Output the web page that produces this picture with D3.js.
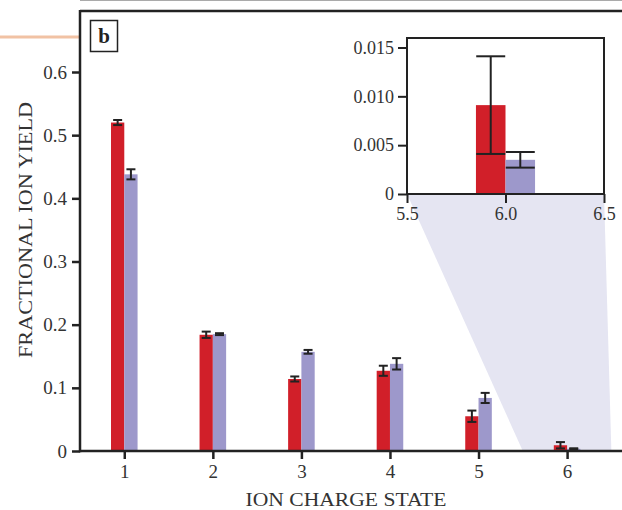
<!DOCTYPE html>
<html>
<head>
<meta charset="utf-8">
<script src="https://cdn.jsdelivr.net/npm/d3@7"></script>
<style>
  body { margin: 0; background: #fff; }
  svg { display: block; font-family: "Liberation Serif", "DejaVu Serif", serif; }
</style>
</head>
<body>
<div id="chart"></div>
<script>
// charge states and the two measured series (fractional yield, +/- error)
const chargeStates = [1, 2, 3, 4, 5, 6];
const redYield = [0.520, 0.184, 0.114, 0.127, 0.055, 0.0091];
const redErr = [0.004, 0.005, 0.004, 0.008, 0.009, 0.005];
const blueYield = [0.438, 0.185, 0.157, 0.138, 0.084, 0.0035];
const blueErr = [0.008, 0.0015, 0.003, 0.009, 0.008, 0.0008];

const yTicks = [0, 0.1, 0.2, 0.3, 0.4, 0.5, 0.6];
const insetStates = [6];
const insetYTicks = [0, 0.005, 0.010, 0.015];
const insetXTicks = [5.5, 6.0, 6.5];

const colors = { red: "#d11f29", blue: "#9d98cb" };
const ink = "#222";
const barW = 0.15;

const svg = d3.select("#chart").append("svg")
    .attr("width", 622)
    .attr("height", 510);

// main scales
const x = d3.scaleLinear().domain([0.5, 6.62]).range([80, 622]);
const y = d3.scaleLinear().domain([0, 0.6]).range([451, 72]);

// inset scales
const xi = d3.scaleLinear().domain([5.5, 6.5]).range([407, 604]);
const yi = d3.scaleLinear().domain([0, 0.015]).range([194, 47.5]);

// page decorations
svg.append("line")
    .attr("x1", 80).attr("x2", 622).attr("y1", 0.5).attr("y2", 0.5)
    .attr("stroke", "#aaa").attr("stroke-width", 1);
svg.append("line")
    .attr("x1", 0).attr("x2", 80).attr("y1", 37).attr("y2", 37)
    .attr("stroke", "#f1c2a4").attr("stroke-width", 3);

// zoom shading from inset down to the main axis
svg.append("polygon")
    .attr("points", [
        [xi(5.5), yi(0)], [xi(6.5), yi(0)],
        [x(6.5), y(0)], [x(5.5), y(0)]
    ].map(p => p.join(",")).join(" "))
    .attr("fill", "#e5e5f2");

// bars with error bars, for the given charge states
function drawBars(g, xs, ys, states, capW, lineW) {
    const series = [
        { vals: redYield, err: redErr, color: colors.red, off: -barW },
        { vals: blueYield, err: blueErr, color: colors.blue, off: 0 }
    ];
    const idx = states.map(s => chargeStates.indexOf(s));
    series.forEach(s => {
        g.append("g").selectAll("rect")
            .data(idx)
            .join("rect")
            .attr("x", i => xs(chargeStates[i] + s.off))
            .attr("y", i => ys(s.vals[i]))
            .attr("width", i => xs(chargeStates[i] + s.off + barW) - xs(chargeStates[i] + s.off))
            .attr("height", i => ys(0) - ys(s.vals[i]))
            .attr("fill", s.color);
    });
    series.forEach(s => {
        const eg = g.append("g").attr("stroke", ink).attr("stroke-width", lineW);
        idx.forEach(i => {
            const cx = xs(chargeStates[i] + s.off + barW / 2);
            const lo = ys(s.vals[i] - s.err[i]);
            const hi = ys(s.vals[i] + s.err[i]);
            eg.append("line").attr("x1", cx).attr("x2", cx).attr("y1", lo).attr("y2", hi);
            eg.append("line").attr("x1", cx - capW / 2).attr("x2", cx + capW / 2).attr("y1", lo).attr("y2", lo);
            eg.append("line").attr("x1", cx - capW / 2).attr("x2", cx + capW / 2).attr("y1", hi).attr("y2", hi);
        });
    });
}

drawBars(svg.append("g"), x, y, chargeStates, 9, 2);

function styleAxis(a, tickW, fontSize) {
    a.attr("font-family", null).attr("font-size", null);
    a.select(".domain").remove();
    a.selectAll(".tick line").attr("stroke", ink).attr("stroke-width", tickW);
    a.selectAll(".tick text").attr("fill", "#333").style("font-size", fontSize);
}

// main axes
const xAxis = svg.append("g")
    .attr("transform", `translate(0,${y(0)})`)
    .call(d3.axisBottom(x).tickValues(chargeStates).tickSize(8).tickSizeOuter(0).tickPadding(6).tickFormat(d3.format("d")));
const yAxis = svg.append("g")
    .attr("transform", `translate(${x(0.5)},0)`)
    .call(d3.axisLeft(y).tickValues(yTicks).tickSize(8).tickSizeOuter(0).tickPadding(5)
        .tickFormat(d => d === 0 ? "0" : d3.format(".1f")(d)));
styleAxis(xAxis, 2.5, "19px");
styleAxis(yAxis, 2.5, "19px");

// frame lines
svg.append("line").attr("x1", 80).attr("x2", 80).attr("y1", 10).attr("y2", y(0) + 1.25)
    .attr("stroke", ink).attr("stroke-width", 2.5);
svg.append("line").attr("x1", 80).attr("x2", 622).attr("y1", y(0)).attr("y2", y(0))
    .attr("stroke", ink).attr("stroke-width", 2.5);
svg.append("line").attr("x1", 80).attr("x2", 622).attr("y1", 11).attr("y2", 11)
    .attr("stroke", ink).attr("stroke-width", 2.5);

// axis titles
svg.append("text")
    .attr("x", 346).attr("y", 506)
    .attr("text-anchor", "middle")
    .attr("fill", "#333")
    .attr("textLength", 201)
    .attr("lengthAdjust", "spacingAndGlyphs")
    .style("font-size", "19px")
    .text("ION CHARGE STATE");
svg.append("text")
    .attr("transform", "translate(32,230) rotate(-90)")
    .attr("text-anchor", "middle")
    .attr("fill", "#333")
    .attr("textLength", 256)
    .attr("lengthAdjust", "spacingAndGlyphs")
    .style("font-size", "19px")
    .text("FRACTIONAL ION YIELD");

// panel label
svg.append("rect")
    .attr("x", 90.5).attr("y", 20.5).attr("width", 27).attr("height", 31)
    .attr("fill", "#fff").attr("stroke", ink).attr("stroke-width", 1.5);
svg.append("text")
    .attr("x", 104).attr("y", 43)
    .attr("text-anchor", "middle")
    .attr("font-weight", "bold")
    .attr("fill", ink)
    .style("font-size", "21px")
    .text("b");

// inset
const inset = svg.append("g");
inset.append("rect")
    .attr("x", xi(5.5)).attr("y", 38)
    .attr("width", xi(6.5) - xi(5.5)).attr("height", yi(0) - 38)
    .attr("fill", "#fff");

drawBars(inset.append("g"), xi, yi, insetStates, 29, 2);

inset.append("rect")
    .attr("x", xi(5.5)).attr("y", 38)
    .attr("width", xi(6.5) - xi(5.5)).attr("height", yi(0) - 38)
    .attr("fill", "none").attr("stroke", ink).attr("stroke-width", 2);

const ixAxis = inset.append("g")
    .attr("transform", `translate(0,${yi(0)})`)
    .call(d3.axisBottom(xi).tickValues(insetXTicks).tickSize(9).tickSizeOuter(0).tickPadding(4).tickFormat(d3.format(".1f")));
const iyAxis = inset.append("g")
    .attr("transform", `translate(${xi(5.5)},0)`)
    .call(d3.axisLeft(yi).tickValues(insetYTicks).tickSize(9).tickSizeOuter(0).tickPadding(4)
        .tickFormat(d => d === 0 ? "0" : d3.format(".3f")(d)));
styleAxis(ixAxis, 2, "18px");
styleAxis(iyAxis, 2, "18px");
</script>
</body>
</html>
